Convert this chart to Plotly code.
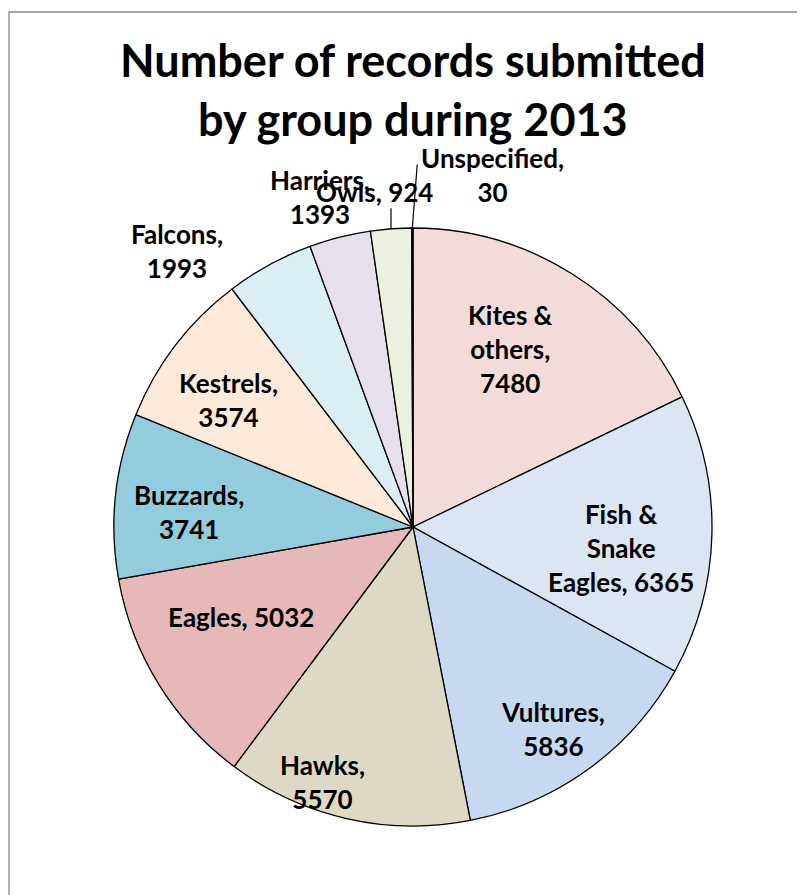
import math
import plotly.graph_objects as go

# ---- data ----
groups = ["Kites & others", "Fish & Snake Eagles", "Vultures", "Hawks", "Eagles",
          "Buzzards", "Kestrels", "Falcons", "Harriers", "Owls", "Unspecified"]
records = [7480, 6365, 5836, 5570, 5032, 3741, 3574, 1993, 1393, 924, 30]
label_text = ["Kites &<br>others,<br>7480", "Fish &<br>Snake<br>Eagles, 6365",
              "Vultures,<br>5836", "Hawks,<br>5570", "Eagles, 5032",
              "Buzzards,<br>3741", "Kestrels,<br>3574", "Falcons,<br>1993",
              "Harriers,<br>1393", "Owls, 924", "Unspecified,<br>30"]

# ---- style ----
colors = ["#F2DCDB", "#DCE6F2", "#C6D9F1", "#DDD9C4", "#E6B9B8",
          "#93CDDD", "#FDEADA", "#DBEEF4", "#E5E0EC", "#EBF1DE", "#F2F2F2"]
# label placement: radial factor and angle offset (deg) per slice
rad_f = [0.68, 0.70, 0.82, 0.905, 0.65, 0.75, 0.75, 1.215, 1.147, 1.128, 1.207]
ang_off = [-3.3, 4.3, 1.4, 6.7, 3.9, -2.2, -2.9, -11.8, -1.5, -2.4, 12.9]
leader = {"Owls": (0, -22), "Unspecified": (5, -65)}

W, H = 805, 895
OFF = 8  # page body margin offset
CX, CY, R = 413 - OFF, 527 - OFF, 299
FONT = "Lato"

fig = go.Figure(go.Pie(
    labels=groups, values=records, sort=False, direction="clockwise", rotation=0,
    marker=dict(colors=colors, line=dict(color="black", width=1.3)),
    textinfo="none", hoverinfo="label+value", showlegend=False,
    domain=dict(x=[(CX - R) / W, (CX + R) / W], y=[1 - (CY + R) / H, 1 - (CY - R) / H]),
))

total = sum(records)
annotations = []
cum = 0
for i, (g, v) in enumerate(zip(groups, records)):
    mid = (cum + v / 2) / total * 360
    cum += v
    a = math.radians(mid + ang_off[i])
    px = CX + rad_f[i] * R * math.sin(a)
    py = CY - rad_f[i] * R * math.cos(a)
    annotations.append(dict(x=px / W, y=1 - py / H, xref="paper", yref="paper",
                            text="<b>" + label_text[i] + "</b>", showarrow=False,
                            font=dict(family=FONT, size=26, color="black"),
                            xanchor="center", yanchor="middle"))
    if g in leader:
        am = math.radians(mid)
        ex = CX + R * math.sin(am)
        ey = CY - R * math.cos(am)
        dx, dy = leader[g]
        annotations.append(dict(x=ex / W, y=1 - ey / H, xref="paper", yref="paper",
                                text="", showarrow=True, arrowhead=0, arrowwidth=1.2,
                                arrowcolor="black", ax=dx, ay=dy, standoff=0,
                                startstandoff=0))

annotations.append(dict(x=CX / W, y=1 - 23 / H, xref="paper", yref="paper",
                        text="<b>Number of records submitted<br>by group during 2013</b>",
                        showarrow=False, xanchor="center", yanchor="top",
                        font=dict(family=FONT, size=45, color="black")))

fig.update_layout(
    width=W, height=H, margin=dict(l=0, r=0, t=0, b=0),
    paper_bgcolor="white", plot_bgcolor="white",
    font=dict(family=FONT, color="black"),
    annotations=annotations,
    shapes=[dict(type="rect", xref="paper", yref="paper",
                 x0=1 / W, x1=1.02, y0=-0.02, y1=1 - 4 / H,
                 line=dict(color="#8c8c8c", width=1.3), fillcolor="rgba(0,0,0,0)")],
)

fig.write_html("out.html")
